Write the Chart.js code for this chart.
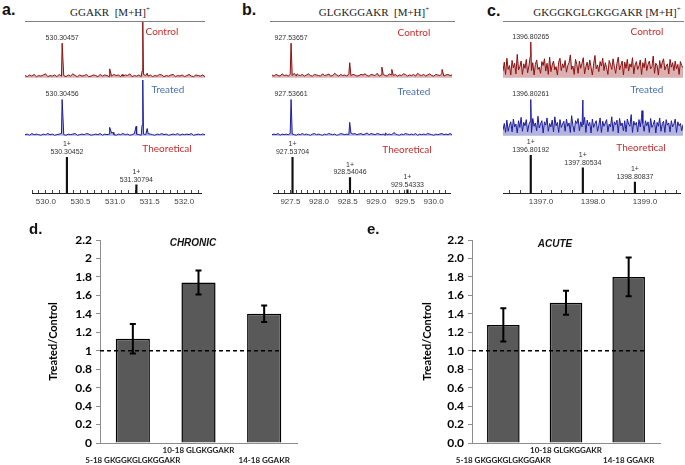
<!DOCTYPE html>
<html>
<head>
<meta charset="utf-8">
<script src="https://cdn.jsdelivr.net/npm/chart.js@4.4.1/dist/chart.umd.min.js"></script>
<style>
  body { margin: 0; background: #fff; }
  #fig { position: relative; width: 685px; height: 465px; overflow: hidden; background: #fff; }
  #fig canvas { position: absolute; }
  .txt { position: absolute; white-space: nowrap; line-height: 1; }
  .panel { font: bold 16px "Liberation Sans", Arial, sans-serif; color: #111; }
  .panel2 { font: bold 15px "Liberation Sans", Arial, sans-serif; color: #111; }
  .pep { font: 11px "Liberation Serif", "Times New Roman", serif; color: #222; }
  .pep sup { font-size: 7px; line-height: 0; vertical-align: 5px; }
  .red { font: 10px Lato, sans-serif; color: #c62d2d; }
  .blue { font: 10px Lato, sans-serif; color: #4672ad; }
  .cond { font: italic bold 10px "Liberation Sans", Arial, sans-serif; color: #111; }
  .rule { position: absolute; height: 1px; background: #808080; }
</style>
</head>
<body>
<div id="fig"></div>
<script>
// ---- panel a: GGAKR ----
const aRange = [529.80, 532.245];
const aTicks = ['530.0', '530.5', '531.0', '531.5', '532.0'];
const aCtrlNoise = [4,2,5,3,6,2,4,3,5,7,2,4,3,5,2,6,3,4,2,5,3,7,4,2,5,3,4,6,2,3,5,4,2,6,3,5,4,2,3,6,4,5,2,3,5,4,7,2,4,3,5,2,6,4,3,5,2,4,3,6,5,2,4,3,5,6,2,4,3,5,2,4,6,3,2,5,4,3,5,2];
const aCtrlPeaks = [[530.30457, 62], [530.95, 16], [531.12, 6], [531.39, 12], [531.40, 100], [531.46, 8]];
const aTreatNoise = [2,3,1,4,2,3,2,1,3,2,4,2,3,1,2,3,4,2,1,3,2,3,4,1,2,3,2,4,3,1,2,3,2,4,1,3,2,3,5,2,1,3,2,4,2,3,1,2,4,3,2,1,3,2,4,3,2,1,3,2,4,2,3,1,2,3,2,4,1,3,2,3,2,4,1,2,3,2,3,2];
const aTreatPeaks = [[530.30456, 65], [530.95, 15], [531.00, 6], [531.31, 17], [531.39, 19], [531.40, 100], [531.46, 13]];
const aTheo = [[530.30452, 100], [531.30794, 23]];

// ---- panel b: GLGKGGAKR ----
const bRange = [927.21, 930.29];
const bTicks = ['927.5', '928.0', '928.5', '929.0', '929.5', '930.0'];
const bCtrlNoise = [5,3,6,4,3,7,4,5,3,6,4,8,3,5,4,6,3,5,7,4,3,6,5,4,3,7,4,5,6,3,4,8,5,3,6,4,5,3,7,4,6,5,3,4,6,5,7,4,3,6,5,4,8,3,5,6,4,3,7,5,4,6,3,5,4,7,6,3,5,4,6,3,8,5,4,6,3,5,7,4,3,6,5,4,7,3,5,6,4,5];
const bCtrlPeaks = [[927.53657, 62], [927.64, 7], [928.18, 7], [928.54, 27], [929.09, 19], [929.26, 15], [930.12, 15]];
const bTreatNoise = [2,3,2,4,1,3,2,3,2,4,3,2,1,3,2,4,2,3,2,1,3,4,2,3,2,1,3,2,4,3,2,3,1,2,4,3,2,3,2,5,3,4,2,3,4,2,3,5,2,4,3,2,4,3,2,3,1,2,3,2,4,3,2,1,3,2,4,3,2,3,2,4,1,3,2,3,2,4,3,2,1,3,2,3,4,2,3,2,4,2];
const bTreatPeaks = [[927.53661, 65], [928.54, 24], [929.15, 5], [929.30, 6]];
const bTheo = [[927.53704, 100], [928.54046, 43], [929.54333, 9]];

// ---- panel c: GKGGKGLGKGGAKR ----
const cRange = [1396.277, 1399.686];
const cTicks = ['1397.0', '1398.0', '1399.0'];
const cCtrlNoise = [12,28,6,35,15,22,5,31,18,26,7,42,14,20,30,6,25,17,33,9,21,38,13,27,5,24,32,15,19,8,29,22,34,12,26,6,37,11,23,30,14,20,5,28,35,13,25,18,31,10,22,27,41,15,21,6,33,24,8,30,17,26,36,7,20,28,14,32,19,5,25,40,16,23,11,29,21,35,13,27,18,6,31,24,15,34,20,8,26,37,14,22,30,5,28,17,33,12,25,19,36,7,23,29,15,21,32,6,27,18,35,13,24,30,16,20,39,8,26,22,5,31,17,28,34,14,21,25,7,33,19,27,13,30,16,24,6,29,22,18];
const cCtrlPeaks = [[1396.80265, 64]];
const cTreatNoise = [10,22,6,28,8,19,25,7,30,16,21,5,27,15,33,8,24,18,29,7,20,26,6,31,17,23,9,35,14,21,27,5,25,19,32,8,22,16,28,7,34,18,24,6,29,15,21,26,8,30,17,23,6,36,19,7,27,22,31,9,25,16,20,33,6,28,18,24,5,30,15,22,27,8,19,32,6,26,17,23,29,7,21,16,34,8,25,20,28,5,31,18,23,9,27,7,30,21,17,38,6,26,19,24,7,29,16,33,22,8,27,18,25,6,31,15,20,28,5,24,17,32,8,22,26,6,29,19,23,7,27,16,21,30,6,25,18,22,9,20];
const cTreatPeaks = [[1396.80261, 65], [1397.79, 64], [1398.91, 45]];
const cTheo = [[1396.80192, 100], [1397.80534, 66], [1398.80837, 29]];

// ---- panels d/e: Treated/Control ratios ----
const peptides = ['5-18 GKGGKGLGKGGAKR', '10-18 GLGKGGAKR', '14-18 GGAKR'];
const chronicMean = [1.13, 1.74, 1.40];
const chronicErr = [0.16, 0.13, 0.09];
const acuteMean = [1.28, 1.52, 1.80];
const acuteErr = [0.18, 0.13, 0.21];
const dTickLabels = ['0', '0.2', '0.4', '0.6', '0.8', '1', '1.2', '1.4', '1.6', '1.8', '2', '2.2'];
const eTickLabels = ['0.0', '0.2', '0.4', '0.6', '0.8', '1.0', '1.2', '1.4', '1.6', '1.8', '2.0', '2.2'];

const fig = document.getElementById('fig');
const ctrlColor = '#8c1010', ctrlFill = 'rgba(150,30,30,0.35)';
const treatColor = '#1c1c9c', treatFill = 'rgba(40,40,170,0.35)';
const sans = '"Liberation Sans", Arial, sans-serif';

// labels above peaks (m/z and charge)
const peakText = {
  id: 'peakText',
  afterDatasetsDraw(chart, args, opts) {
    const items = opts.items;
    if (!items || !items.length) return;
    const {ctx, scales: {x, y}} = chart;
    ctx.save();
    ctx.font = '7px ' + sans;
    ctx.fillStyle = '#333';
    ctx.textAlign = 'center';
    ctx.textBaseline = 'middle';
    items.forEach(it => {
      const px = x.getPixelForValue(it.mz);
      const py = y.getPixelForValue(it.h);
      it.lines.slice().reverse().forEach((t, k) => ctx.fillText(t, px, py - 5 - k * 7.5));
    });
    ctx.restore();
  }
};

// error bars + dashed reference line
const errBars = {
  id: 'errBars',
  afterDatasetsDraw(chart, args, opts) {
    if (!opts.errs) return;
    const ctx = chart.ctx;
    const y = chart.scales.y;
    const meta = chart.getDatasetMeta(0);
    const vals = chart.data.datasets[0].data;
    const last = meta.data[meta.data.length - 1];
    ctx.save();
    ctx.strokeStyle = '#000';
    ctx.lineWidth = 1.3;
    ctx.setLineDash([4, 3]);
    const ry = y.getPixelForValue(opts.ref);
    ctx.beginPath();
    ctx.moveTo(chart.chartArea.left, ry);
    ctx.lineTo(last.x + last.width / 2, ry);
    ctx.stroke();
    ctx.setLineDash([]);
    ctx.lineWidth = 2;
    meta.data.forEach((bar, i) => {
      const hi = y.getPixelForValue(vals[i] + opts.errs[i]);
      const lo = y.getPixelForValue(vals[i] - opts.errs[i]);
      ctx.beginPath();
      ctx.moveTo(bar.x, hi); ctx.lineTo(bar.x, lo);
      ctx.moveTo(bar.x - 3, hi); ctx.lineTo(bar.x + 3, hi);
      ctx.moveTo(bar.x - 3, lo); ctx.lineTo(bar.x + 3, lo);
      ctx.stroke();
    });
    ctx.restore();
  }
};
Chart.register(peakText, errBars);

function makeCanvas(left, top, width, height) {
  const c = document.createElement('canvas');
  c.width = width; c.height = height;
  c.style.left = left + 'px'; c.style.top = top + 'px';
  c.style.width = width + 'px'; c.style.height = height + 'px';
  fig.appendChild(c);
  return c;
}

function addText(html, x, y, cls, align) {
  const d = document.createElement('div');
  d.className = 'txt ' + cls;
  d.innerHTML = html;
  d.style.left = x + 'px';
  d.style.top = y + 'px';
  d.style.transform = align === 'left' ? 'translate(0,-50%)' : 'translate(-50%,-50%)';
  fig.appendChild(d);
}

function addRule(x1, x2, y) {
  const d = document.createElement('div');
  d.className = 'rule';
  d.style.left = x1 + 'px'; d.style.top = y + 'px'; d.style.width = (x2 - x1) + 'px';
  fig.appendChild(d);
}

const baseOpts = {
  animation: false,
  responsive: false,
  events: []
};

function traceChart(left, top, range, noise, peaks, color, fill) {
  const step = (range[1] - range[0]) / (noise.length - 1);
  const pts = noise.map((v, i) => ({x: range[0] + i * step, y: v}));
  peaks.forEach(p => pts.push({x: p[0], y: p[1]}));
  pts.sort((a, b) => a.x - b.x);
  new Chart(makeCanvas(left, top, 180, 58), {
    type: 'line',
    data: {
      datasets: [{
        data: pts, borderColor: color, backgroundColor: fill,
        borderWidth: 1, pointRadius: 0, fill: 'origin', tension: 0
      }]
    },
    options: {
      ...baseOpts,
      layout: {padding: 0},
      plugins: {
        legend: {display: false}, tooltip: {enabled: false},
        peakText: {items: [{mz: peaks[0][0], h: peaks[0][1], lines: [peaks[0][0].toFixed(5)]}]}
      },
      scales: {
        x: {type: 'linear', display: false, min: range[0], max: range[1]},
        y: {display: false, min: -4, max: 100}
      }
    }
  });
}

function theoChart(left, range, peaks, tickLabels, stepSize, padTop) {
  new Chart(makeCanvas(left, 133, 180, 78), {
    type: 'bar',
    data: {
      datasets: [{
        data: peaks.map(p => ({x: p[0], y: p[1]})),
        backgroundColor: '#111', barThickness: 1.5
      }]
    },
    options: {
      ...baseOpts,
      layout: {padding: {top: padTop, left: 0, right: 0, bottom: 0}},
      plugins: {
        legend: {display: false}, tooltip: {enabled: false},
        peakText: {items: peaks.map(p => ({mz: p[0], h: p[1], lines: ['1+', p[0].toFixed(5)]}))}
      },
      scales: {
        x: {
          type: 'linear', min: range[0], max: range[1], offset: false,
          afterFit: s => { s.height = 18; },
          grid: {display: true, drawOnChartArea: false, drawTicks: true, tickLength: -3, color: '#444', offset: false},
          border: {display: true, color: '#222', width: 1},
          ticks: {
            stepSize: stepSize, autoSkip: false, maxRotation: 0, minRotation: 0, includeBounds: false,
            padding: 7, color: '#444', font: {family: sans, size: 8},
            callback: v => {
              const t = v.toFixed(1);
              return tickLabels.includes(t) ? t : '';
            }
          }
        },
        y: {display: false, min: 0, max: 100}
      }
    }
  });
}

function ratioChart(left, width, padL, yWidth, padR, means, errs, tickLabels) {
  const fontB = {family: 'Lato, sans-serif', weight: 'bold'};
  new Chart(makeCanvas(left, 225, width, 240), {
    type: 'bar',
    data: {
      labels: peptides.map((p, i) => i % 2 ? [p, ''] : ['', p]),
      datasets: [{
        data: means, backgroundColor: '#595959', borderColor: '#000', borderWidth: 1.5,
        categoryPercentage: 1, barPercentage: 0.52
      }]
    },
    options: {
      ...baseOpts,
      layout: {padding: {left: padL, right: padR, top: 15, bottom: 0}},
      plugins: {
        legend: {display: false}, tooltip: {enabled: false},
        errBars: {errs: errs, ref: 1}
      },
      scales: {
        x: {
          grid: {display: false, drawTicks: false},
          border: {display: true, color: '#8c8c8c'},
          afterFit: s => { s.height = 22; },
          ticks: {autoSkip: false, maxRotation: 0, minRotation: 0, padding: 2, color: '#222', font: {...fontB, size: 8, lineHeight: 1.25}}
        },
        y: {
          min: 0, max: 2.2,
          afterFit: s => { s.width = yWidth; },
          grid: {drawOnChartArea: false, tickLength: 4, color: '#8c8c8c'},
          border: {color: '#8c8c8c'},
          ticks: {stepSize: 0.2, padding: 4, color: '#000', font: {...fontB, size: 12}, callback: (v, i) => tickLabels[i]},
          title: {display: true, text: 'Treated/Control', color: '#000', font: {...fontB, size: 11}, padding: {top: 4, bottom: 4}}
        }
      }
    }
  });
}

// spectra
traceChart(25, 22, aRange, aCtrlNoise, aCtrlPeaks, ctrlColor, ctrlFill);
traceChart(25, 80, aRange, aTreatNoise, aTreatPeaks, treatColor, treatFill);
theoChart(25, aRange, aTheo, aTicks, 0.1, 24);

traceChart(272, 22, bRange, bCtrlNoise, bCtrlPeaks, ctrlColor, ctrlFill);
traceChart(272, 80, bRange, bTreatNoise, bTreatPeaks, treatColor, treatFill);
theoChart(272, bRange, bTheo, bTicks, 0.1, 24);

traceChart(503, 22, cRange, cCtrlNoise, cCtrlPeaks, ctrlColor, ctrlFill);
traceChart(503, 80, cRange, cTreatNoise, cTreatPeaks, treatColor, treatFill);
theoChart(503, cRange, cTheo, cTicks, 0.2, 22);

// ratio bars
ratioChart(0, 340, 43, 57, 43, chronicMean, chronicErr, dTickLabels);
ratioChart(340, 345, 77, 55, 25, acuteMean, acuteErr, eTickLabels);

// text
addText('a.', 2, 10, 'panel', 'left');
addText('b.', 242, 10, 'panel', 'left');
addText('c.', 487, 11, 'panel', 'left');
addText('d.', 29, 228, 'panel2', 'left');
addText('e.', 367, 228, 'panel2', 'left');

addText('GGAKR&nbsp;&nbsp;[M+H]<sup>+</sup>', 110, 12, 'pep');
addText('GLGKGGAKR&nbsp;&nbsp;[M+H]<sup>+</sup>', 374, 12, 'pep');
addText('GKGGKGLGKGGAKR&nbsp;[M+H]<sup>+</sup>', 607, 12, 'pep');
addRule(25, 205, 21);
addRule(270, 455, 21);
addRule(503, 684, 21);

addText('Control', 162, 31, 'red');
addText('Control', 414, 32, 'red');
addText('Control', 647, 31, 'red');
addText('Treated', 168, 89, 'blue');
addText('Treated', 414, 91, 'blue');
addText('Treated', 647, 89, 'blue');
addText('Theoretical', 167, 148, 'red');
addText('Theoretical', 407, 149, 'red');
addText('Theoretical', 641, 147, 'red');

addText('CHRONIC', 193, 242, 'cond');
addText('ACUTE', 555, 243, 'cond');
</script>
</body>
</html>
